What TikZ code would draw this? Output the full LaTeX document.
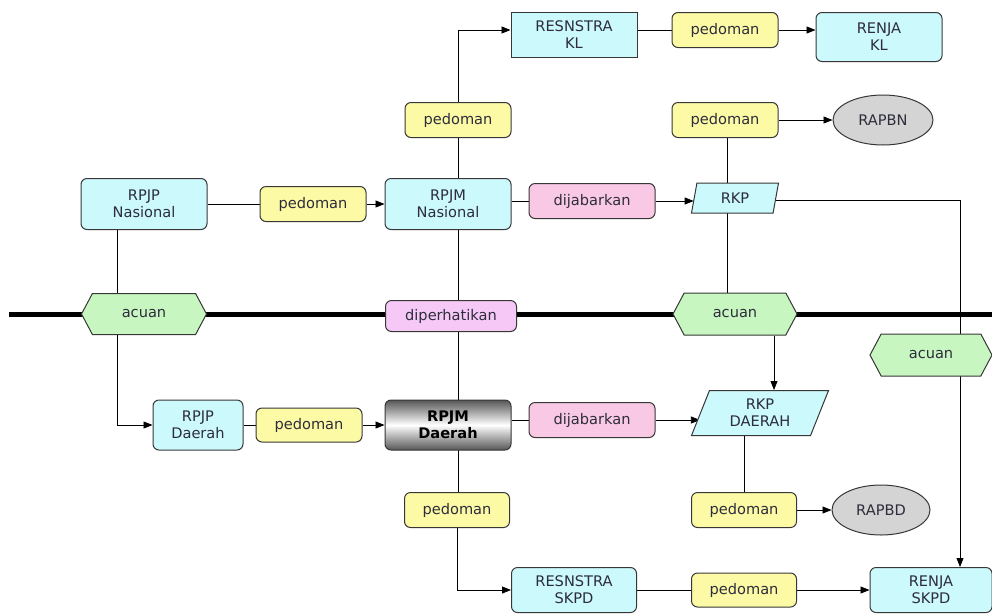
\documentclass[tikz,border=0pt]{standalone}
\usepackage{fontspec}
\setmainfont{DejaVu Sans}
\usetikzlibrary{shapes.geometric,shapes.symbols,backgrounds,arrows.meta}
\definecolor{boxcyan}{RGB}{204,249,252}
\definecolor{boxyellow}{RGB}{252,250,165}
\definecolor{boxpink}{RGB}{248,200,228}
\definecolor{boxviolet}{RGB}{246,200,246}
\definecolor{boxgreen}{RGB}{200,246,192}
\definecolor{boxgray}{RGB}{212,212,212}
\definecolor{edge}{RGB}{55,55,55}
\definecolor{ink}{RGB}{45,45,60}
\tikzstyle{base} = [draw=edge, line width=1pt, text=ink, font=\fontsize{14.6}{17}\selectfont, align=center, inner sep=0pt]
\tikzstyle{doc} = [base, rectangle, rounded corners=6pt, fill=boxcyan, minimum width=126pt, minimum height=51pt]
\tikzstyle{plan} = [base, rectangle, fill=boxcyan, minimum width=126pt, minimum height=45pt]
\tikzstyle{pedoman} = [base, rectangle, rounded corners=6pt, fill=boxyellow, minimum width=106pt, minimum height=35pt]
\tikzstyle{jabar} = [base, rectangle, rounded corners=6pt, fill=boxpink, minimum width=126pt, minimum height=35pt]
\tikzstyle{acuan} = [base, signal, signal to=east and west, signal pointer angle=124, fill=boxgreen, minimum width=125pt, minimum height=41pt]
\tikzstyle{budget} = [base, ellipse, fill=boxgray, minimum width=100pt, minimum height=50pt]
\tikzstyle{rkpbox} = [base, trapezium, trapezium stretches body, fill=boxcyan]
\tikzstyle{link} = [line width=0.8pt, draw=black]
\tikzstyle{arrow} = [link, -{Triangle[length=9pt,width=7pt]}]
\tikzstyle{axis} = [line width=5pt, draw=black]

\begin{document}
\begin{tikzpicture}[x=1pt, y=-1pt]
		\useasboundingbox (0,0) rectangle (992,614);
		% nasional
		\node (rpjpN) [doc] at (144,204) {RPJP\\Nasional};
		\node (pedN) [pedoman, right of=rpjpN, node distance=169pt] {pedoman};
		\node (rpjmN) [doc, right of=pedN, node distance=135pt] {RPJM\\Nasional};
		\node (dijN) [jabar, right of=rpjmN, node distance=144pt, yshift=3pt] {dijabarkan};
		\node (rkp) [rkpbox, right of=dijN, node distance=143pt, yshift=3pt, minimum width=87pt, minimum height=30pt, trapezium left angle=63, trapezium right angle=117] {RKP};
		\node (pedResKL) [pedoman] at (458,120) {pedoman};
		\node (pedRAPBN) [pedoman, right of=pedResKL, node distance=267pt] {pedoman};
		\node (rapbn) [budget, right of=pedRAPBN, node distance=158pt] {RAPBN};
		\node (resKL) [plan] at (574,35) {RESNSTRA\\KL};
		\node (pedKL) [pedoman, right of=resKL, node distance=151pt, yshift=5pt] {pedoman};
		\node (renjaKL) [doc, right of=pedKL, node distance=154pt, yshift=-7pt, minimum height=49pt] {RENJA\\KL};
		% garis batas
		\node (acuanL) [acuan] at (144,314) {acuan};
		\node (diperhatikan) [base, rectangle, rounded corners=6pt, fill=boxviolet, minimum width=131pt, minimum height=31pt, right of=acuanL, node distance=307pt, yshift=-2pt] {diperhatikan};
		\node (acuanM) [acuan, right of=acuanL, node distance=591pt, minimum width=124pt, minimum height=42pt] {acuan};
		\node (acuanR) [acuan, minimum width=122pt, minimum height=42pt] at (931,355) {acuan};
		% daerah
		\node (rpjpD) [doc, minimum width=90pt, minimum height=50pt] at (198,425) {RPJP\\Daerah};
		\node (pedD) [pedoman, right of=rpjpD, node distance=111pt, minimum height=34pt] {pedoman};
		\node (rpjmD) [doc, right of=pedD, node distance=139pt, minimum height=50pt, top color=black!66, bottom color=black!66, middle color=white, text=black, font=\fontsize{14.6}{17}\selectfont\bfseries] {RPJM\\Daerah};
		\node (dijD) [jabar, right of=rpjmD, node distance=144pt, yshift=5pt] {dijabarkan};
		\node (rkpD) [rkpbox, right of=dijD, node distance=168pt, yshift=7pt, minimum width=137pt, minimum height=45pt, trapezium left angle=57, trapezium right angle=123] {RKP\\DAERAH};
		\node (pedSKPD) [pedoman, minimum width=105pt] at (457,510) {pedoman};
		\node (pedRAPBD) [pedoman, right of=pedSKPD, node distance=287pt, minimum width=105pt] {pedoman};
		\node (rapbd) [budget, right of=pedRAPBD, node distance=137pt, minimum width=98pt] {RAPBD};
		\node (resSKPD) [doc, minimum height=45pt, minimum width=125pt] at (574,590) {RESNSTRA\\SKPD};
		\node (pedBot) [pedoman, right of=resSKPD, node distance=170pt, minimum width=105pt, minimum height=34pt] {pedoman};
		\node (renjaSKPD) [doc, right of=pedBot, node distance=187pt, minimum width=122pt, minimum height=45pt] {RENJA\\SKPD};
		\coordinate (axisL) at (9,314);
		\coordinate (axisR) at (992,314);
		\coordinate (turnR) at (960,200);

		\begin{scope}[on background layer]
		\draw [axis] (axisL) -- (axisR);
		\draw [link] (rpjpN.east |- pedN) -- (pedN.west);
		\draw [arrow] (pedN.east) -- (pedN.east -| rpjmN.west);
		\draw [link] (rpjmN.east |- dijN) -- (dijN.west);
		\draw [arrow] (dijN.east) -- (dijN.east -| rkp.west);
		\draw [link] (pedResKL.south) -- (pedResKL.south |- pedSKPD.north);
		\draw [arrow] (pedResKL.north) |- (resKL.west |- pedKL);
		\draw [link] (resKL.east |- pedKL) -- (pedKL.west);
		\draw [arrow] (pedKL.east) -- (pedKL.east -| renjaKL.west);
		\draw [arrow] (pedRAPBN.east) -- (pedRAPBN.east -| rapbn.west);
		\draw [link] ([xshift=2pt]pedRAPBN.south) -- ([xshift=2pt]pedRAPBN.south |- acuanM.north);
		\draw [arrow] (rkp.east |- turnR) -- (turnR) -- (turnR |- renjaSKPD.north);
		\draw [arrow] ([xshift=-27pt]rpjpN.south) |- (rpjpD.west);
		\draw [link] (rpjpD.east) -- (pedD.west);
		\draw [arrow] (pedD.east) -- (rpjmD.west);
		\draw [link] (rpjmD.east |- dijD) -- (dijD.west);
		\draw [arrow] (dijD.east) -- (dijD.east -| rkpD.west);
		\draw [arrow] ([xshift=39pt]acuanM.south) -- ([xshift=39pt]acuanM.south |- rkpD.north);
		\draw [link] (rkpD.south -| pedRAPBD) -- (pedRAPBD.north);
		\draw [arrow] (pedRAPBD.east) -- (pedRAPBD.east -| rapbd.west);
		\draw [arrow] (pedSKPD.south) |- (resSKPD.west);
		\draw [link] (resSKPD.east |- pedBot) -- (pedBot.west);
		\draw [arrow] (pedBot.east) -- (pedBot.east -| renjaSKPD.west);
		\end{scope}
\end{tikzpicture}
\end{document}
